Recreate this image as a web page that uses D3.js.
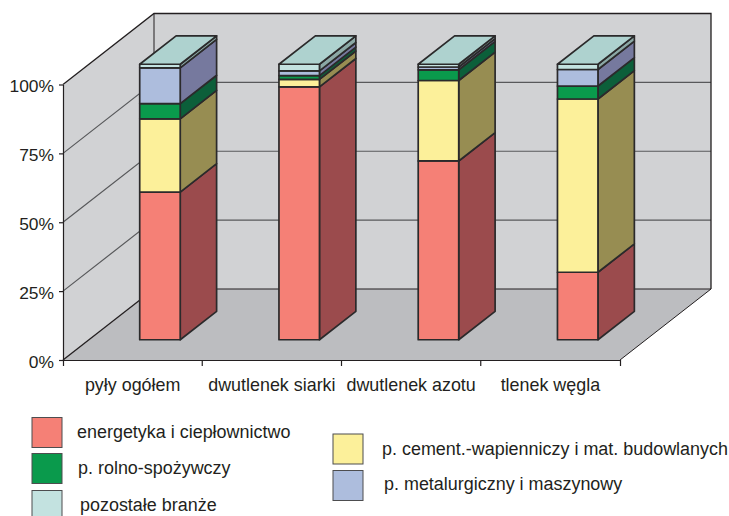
<!DOCTYPE html>
<html>
<head>
<meta charset="utf-8">
<script src="https://cdn.jsdelivr.net/npm/d3@7"></script>
<style>
    html, body { margin: 0; padding: 0; background: #fff; overflow: hidden; }
    text { font-family: "Liberation Sans", Arial, sans-serif; fill: #231f20; }
</style>
</head>
<body>
<div id="chart"></div>
<script>
const categories = ["pyły ogółem", "dwutlenek siarki", "dwutlenek azotu", "tlenek węgla"];
const seriesNames = [
    "energetyka i ciepłownictwo",
    "p. cement.-wapienniczy i mat. budowlanych",
    "p. rolno-spożywczy",
    "p. metalurgiczny i maszynowy",
    "pozostałe branże"
];
const energetyka = [53.6, 91.8, 64.9, 24.5];
const cement = [26.6, 2.7, 29.2, 62.9];
const rolno = [5.5, 1.4, 3.9, 4.7];
const metal = [13.0, 1.7, 1.0, 6.0];
const pozostale = [1.3, 2.4, 1.0, 1.9];
const yTicks = [0, 25, 50, 75, 100];

const frontColors = ["#f58076", "#fcf09a", "#0a9a4c", "#adbddd", "#c3e2e0"];
const sideColors = ["#9b4b4d", "#978d52", "#0c5f3a", "#76799e", "#8ba8a5"];
const topColor = "#aed2cf";

const width = 729;
const height = 516;
const depthX = 91;
const depthY = -71;
const line = "#231f20";

const svg = d3.select("#chart")
    .append("svg")
    .attr("width", width)
    .attr("height", height);

const x = d3.scaleBand()
    .domain(categories)
    .range([63, 620]);

const y = d3.scaleLinear()
    .domain([0, 100])
    .range([360, 84.5]);

// d = 0 is the front plane of the box, d = 1 the back wall
const px = (xv, d) => xv + d * depthX;
const py = (yv, d) => y(yv) + d * depthY;
const pt = (xv, yv, d) => [px(xv, d), py(yv, d)];
const path = pts => "M" + pts.map(p => p.join(",")).join("L") + "Z";

// walls and floor
svg.append("path")
    .attr("d", path([pt(63, 0, 0), pt(63, 100, 0), pt(63, 100, 1), pt(620, 100, 1), pt(620, 0, 1), pt(63, 0, 1)]))
    .attr("fill", "#d1d2d4");

svg.append("path")
    .attr("d", path([pt(63, 0, 0), pt(620, 0, 0), pt(620, 0, 1), pt(63, 0, 1)]))
    .attr("fill", "#bcbdc0");

// gridlines on the side and back wall
yTicks.slice(1, -1).forEach(t => {
    svg.append("path")
        .attr("d", d3.line()([pt(63, t, 0), pt(63, t, 1), pt(620, t, 1)]))
        .attr("fill", "none")
        .attr("stroke", "#58595b")
        .attr("stroke-width", 1.2);
});

svg.append("path")
    .attr("d", d3.line()([pt(63, 100, 0), pt(63, 100, 1), pt(620, 100, 1), pt(620, 0, 1)]))
    .attr("fill", "none")
    .attr("stroke", line)
    .attr("stroke-width", 1.3);

svg.append("path")
    .attr("d", d3.line()([pt(63, 100, 1), pt(63, 0, 1), pt(620, 0, 1)]))
    .attr("fill", "none")
    .attr("stroke", line)
    .attr("stroke-width", 1);

svg.append("path")
    .attr("d", d3.line()([pt(63, 0, 0), pt(63, 0, 1)]))
    .attr("fill", "none")
    .attr("stroke", line)
    .attr("stroke-width", 1.3);

svg.append("path")
    .attr("d", d3.line()([pt(620, 0, 0), pt(620, 0, 1)]))
    .attr("fill", "none")
    .attr("stroke", line)
    .attr("stroke-width", 1);

// axes
const yAxis = svg.append("g")
    .attr("transform", "translate(63, 0)")
    .call(d3.axisLeft(y).tickValues(yTicks).tickFormat(d => d + "%").tickSize(4).tickSizeOuter(0));

const xAxis = svg.append("g")
    .attr("transform", "translate(0, 360)")
    .call(d3.axisBottom(x).tickValues(categories).tickSize(0).tickSizeOuter(6));

svg.selectAll(".tick text").style("font-size", "17.4px");
yAxis.selectAll(".tick text").attr("x", -9).attr("dy", "0.42em");
xAxis.selectAll(".tick text").attr("y", 18).attr("dy", "0.71em").style("font-size", "17.9px");
svg.selectAll(".domain").attr("stroke", line).attr("stroke-width", 1.2);
svg.selectAll(".tick line").attr("stroke", line).attr("stroke-width", 1.2);

// category separators under the floor edge
x.domain().slice(1).forEach(c => {
    xAxis.append("line")
        .attr("x1", x(c)).attr("x2", x(c))
        .attr("y1", 0).attr("y2", 6)
        .attr("stroke", line)
        .attr("stroke-width", 1.2);
});

// stacked bars
const table = categories.map((c, i) => ({
    category: c,
    s0: energetyka[i],
    s1: cement[i],
    s2: rolno[i],
    s3: metal[i],
    s4: pozostale[i]
}));
const keys = ["s0", "s1", "s2", "s3", "s4"];
const stacked = d3.stack().keys(keys)(table);

const barWidth = 40.5;
const dNear = 0.285;
const dFar = 0.685;
const outline = "#2b2a2b";
const barStroke = 1.7;

categories.forEach((c, i) => {
    const x0 = x(c) + (x.bandwidth() - barWidth) / 2 + 1.4;
    const x1 = x0 + barWidth;
    const g = svg.append("g");

    stacked.forEach((layer, k) => {
        const [v0, v1] = layer[i];
        g.append("path")
            .attr("d", path([pt(x1, v0, dNear), pt(x1, v0, dFar), pt(x1, v1, dFar), pt(x1, v1, dNear)]))
            .attr("fill", sideColors[k])
            .attr("stroke", outline)
            .attr("stroke-width", barStroke)
            .attr("stroke-linejoin", "round");
        g.append("path")
            .attr("d", path([pt(x0, v0, dNear), pt(x1, v0, dNear), pt(x1, v1, dNear), pt(x0, v1, dNear)]))
            .attr("fill", frontColors[k])
            .attr("stroke", outline)
            .attr("stroke-width", barStroke)
            .attr("stroke-linejoin", "round");
    });

    g.append("path")
        .attr("d", path([pt(x0, 100, dNear), pt(x1, 100, dNear), pt(x1, 100, dFar), pt(x0, 100, dFar)]))
        .attr("fill", topColor)
        .attr("stroke", outline)
        .attr("stroke-width", barStroke)
        .attr("stroke-linejoin", "round");
});

// legend, laid out in two loose columns
const legendPos = [
    { bx: 32, by: 417.5, tx: 77, ty: 438 },
    { bx: 333, by: 434, tx: 382, ty: 455 },
    { bx: 32, by: 453.5, tx: 78, ty: 474 },
    { bx: 333, by: 470.5, tx: 384, ty: 490 },
    { bx: 32, by: 490.5, tx: 80, ty: 511 }
];

seriesNames.forEach((name, k) => {
    const p = legendPos[k];
    svg.append("rect")
        .attr("x", p.bx).attr("y", p.by)
        .attr("width", 30).attr("height", 30)
        .attr("fill", frontColors[k])
        .attr("stroke", "#4d4d4f")
        .attr("stroke-width", 1);
    svg.append("text")
        .attr("x", p.tx).attr("y", p.ty)
        .style("font-size", "17.95px")
        .text(name);
});
</script>
</body>
</html>
